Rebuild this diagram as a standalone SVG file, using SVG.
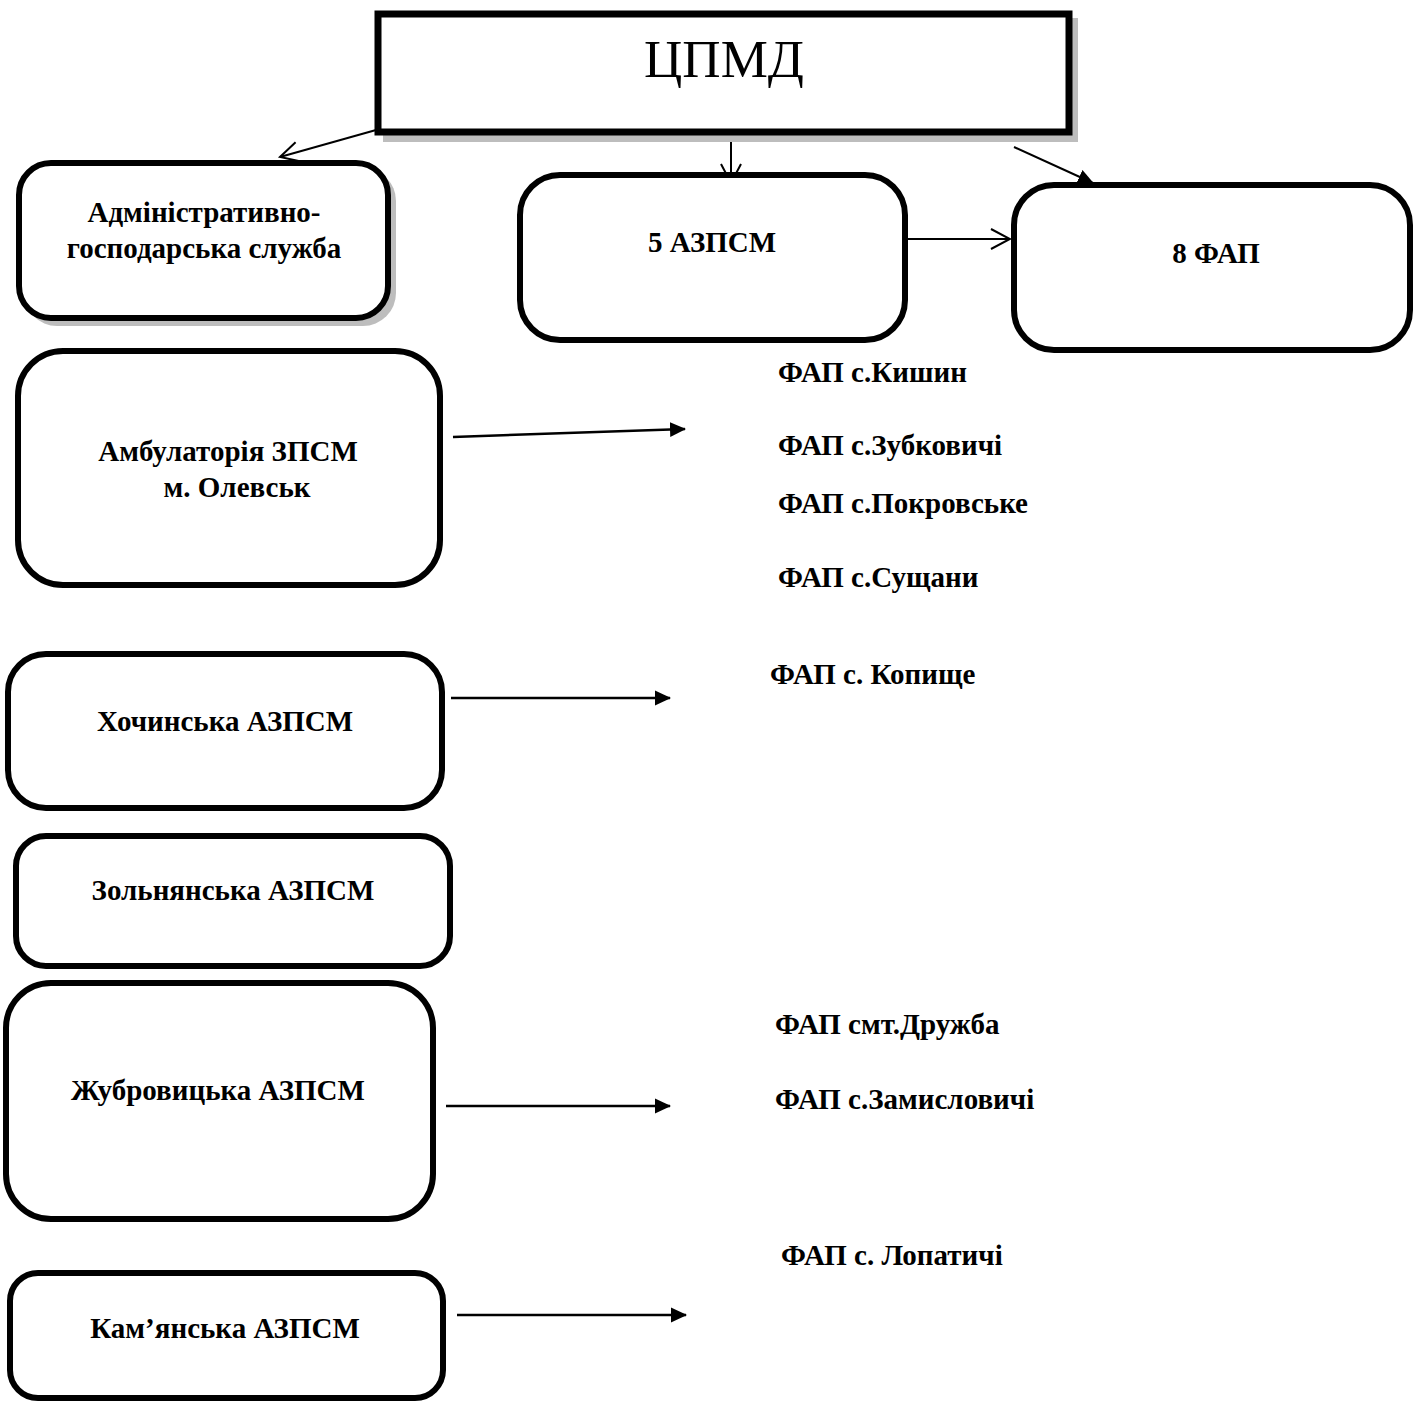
<svg xmlns="http://www.w3.org/2000/svg" width="1413" height="1401" viewBox="0 0 1413 1401">
<style>
.box{fill:#fff;stroke:#000;stroke-width:6}
.shadow{fill:#bdbdbd;stroke:none}
.lbl{font-family:"Liberation Serif","Times New Roman",serif;font-weight:bold;font-size:29px;fill:#000}
.c{text-anchor:middle}
.title{font-family:"Liberation Serif","Times New Roman",serif;font-size:53px;fill:#000;text-anchor:middle}
.ln{stroke:#000;stroke-width:2.5;fill:none}
.ln2{stroke:#000;stroke-width:2;fill:none}
</style>
<defs>
<marker id="chev" markerUnits="userSpaceOnUse" viewBox="0 0 22 22" markerWidth="22" markerHeight="22" refX="20" refY="11" orient="auto">
<path d="M1,1 L20,11 L1,21" fill="none" stroke="#000" stroke-width="2"/>
</marker>
<marker id="tri" markerUnits="userSpaceOnUse" viewBox="0 0 16 16" markerWidth="16" markerHeight="16" refX="15" refY="8" orient="auto">
<path d="M0,0.5 L16,8 L0,15.5 z" fill="#000"/>
</marker>
</defs>

<g id="connectors">
<line class="ln2" x1="376" y1="130" x2="280" y2="157" marker-end="url(#chev)"/>
<line class="ln2" x1="731" y1="136" x2="731" y2="183" marker-end="url(#chev)"/>
<line class="ln2" x1="1014" y1="147" x2="1093" y2="183" marker-end="url(#tri)"/>
<line class="ln2" x1="908" y1="239" x2="1010" y2="239" marker-end="url(#chev)"/>
<line class="ln" x1="453" y1="437" x2="685" y2="429" marker-end="url(#tri)"/>
<line class="ln" x1="451" y1="698" x2="670" y2="698" marker-end="url(#tri)"/>
<line class="ln" x1="446" y1="1106" x2="670" y2="1106" marker-end="url(#tri)"/>
<line class="ln" x1="457" y1="1315" x2="686" y2="1315" marker-end="url(#tri)"/>
</g>

<g id="n-cpmd">
<rect class="shadow" x="383" y="18" width="695" height="124"/>
<rect x="378" y="14" width="691" height="118" fill="#fff" stroke="#000" stroke-width="7"/>
<text class="title" x="724" y="77">ЦПМД</text>
</g>

<g id="n-admin">
<rect class="shadow" x="24" y="168" width="372" height="158" rx="33"/>
<rect class="box" x="19" y="163" width="369" height="155" rx="32" stroke-width="7"/>
<text class="lbl c" x="204" y="222">Адміністративно-</text>
<text class="lbl c" x="204" y="258">господарська служба</text>
</g>

<g id="n-5azpsm">
<rect class="box" x="520" y="175" width="385" height="165" rx="40"/>
<text class="lbl c" x="712" y="252">5 АЗПСМ</text>
</g>

<g id="n-8fap">
<rect class="box" x="1014" y="185" width="396" height="165" rx="40"/>
<text class="lbl c" x="1216" y="263">8 ФАП</text>
</g>

<g id="n-ambul">
<rect class="box" x="18" y="351" width="422" height="234" rx="45" stroke-width="5"/>
<text class="lbl c" x="228" y="461">Амбулаторія ЗПСМ</text>
<text class="lbl c" x="237" y="497">м. Олевськ</text>
</g>

<g id="n-hoch">
<rect class="box" x="8" y="654" width="434" height="154" rx="38" stroke-width="5"/>
<text class="lbl c" x="225" y="731">Хочинська АЗПСМ</text>
</g>

<g id="n-zoln">
<rect class="box" x="16" y="836" width="434" height="130" rx="30" stroke-width="5"/>
<text class="lbl c" x="233" y="900">Зольнянська АЗПСМ</text>
</g>

<g id="n-zhubr">
<rect class="box" x="6" y="983" width="427" height="236" rx="45" stroke-width="5"/>
<text class="lbl c" x="218" y="1100">Жубровицька АЗПСМ</text>
</g>

<g id="n-kam">
<rect class="box" x="10" y="1273" width="433" height="125" rx="28" stroke-width="5"/>
<text class="lbl c" x="225" y="1338">Кам’янська АЗПСМ</text>
</g>

<g id="fap-list">
<text class="lbl" x="778" y="382">ФАП с.Кишин</text>
<text class="lbl" x="778" y="455">ФАП с.Зубковичі</text>
<text class="lbl" x="778" y="513">ФАП с.Покровське</text>
<text class="lbl" x="778" y="587">ФАП с.Сущани</text>
<text class="lbl" x="770" y="684">ФАП с. Копище</text>
<text class="lbl" x="775" y="1034">ФАП смт.Дружба</text>
<text class="lbl" x="775" y="1109">ФАП с.Замисловичі</text>
<text class="lbl" x="781" y="1265">ФАП с. Лопатичі</text>
</g>
</svg>
